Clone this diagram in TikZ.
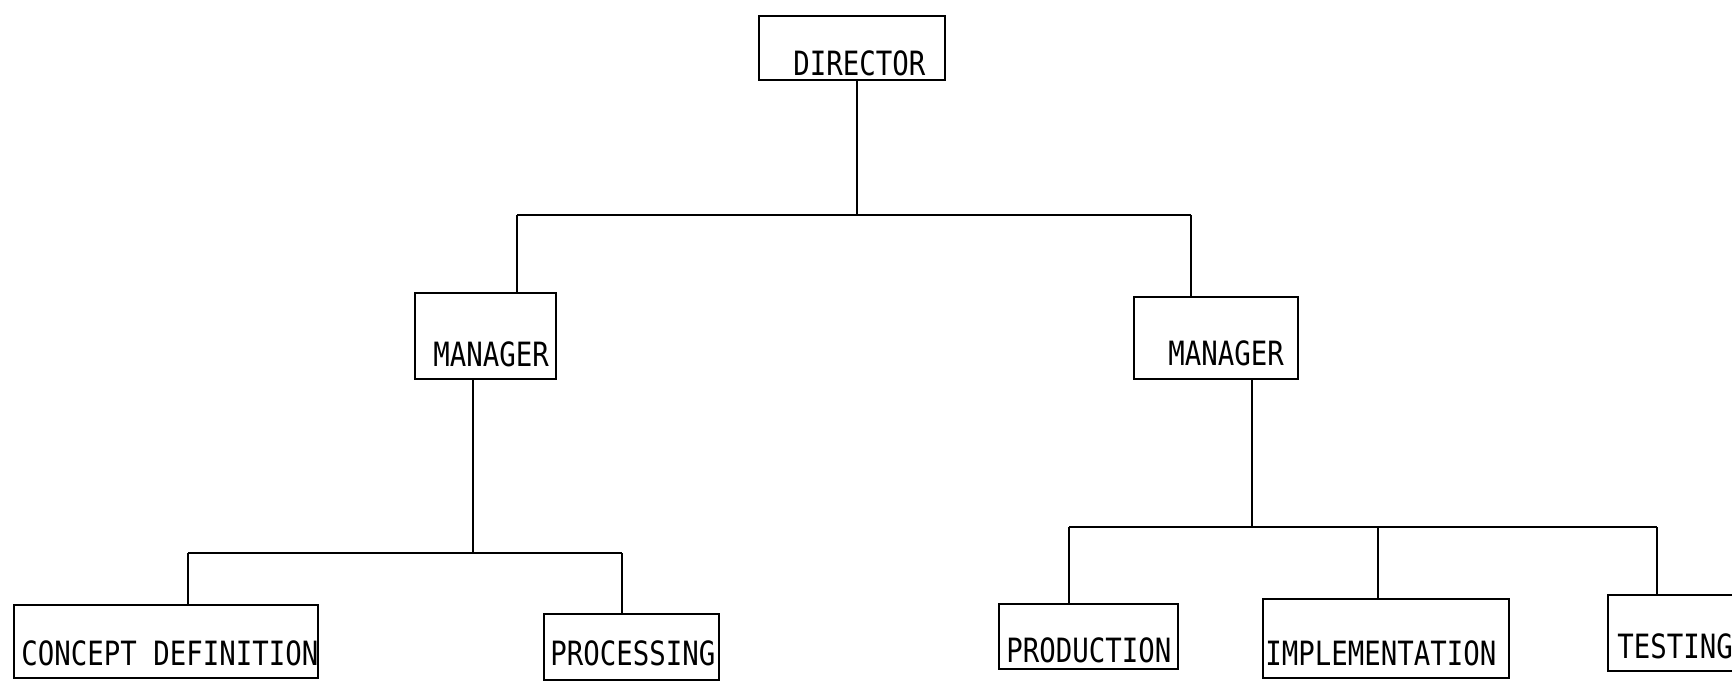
\documentclass[tikz,border=0pt]{standalone}
\usepackage{graphicx}
\usepackage{fontspec}
\newfontfamily\monofam{DejaVu Sans Mono}
\newcommand{\lbltext}[1]{\scalebox{1}[1.22]{#1}}
\tikzset{
  box/.style={draw, line width=1.2pt, inner sep=0pt, anchor=north west},
  lbl/.style={anchor=base west, inner sep=0pt, font=\monofam\fontsize{13.7}{14}\selectfont},
  wire/.style={line width=1.2pt},
}
\begin{document}
\begin{tikzpicture}[x=0.5pt,y=-0.5pt]
\useasboundingbox (0,0) rectangle (1732,680);
\fill[white] (0,0) rectangle (1732,680);
\clip (0,0) rectangle (1732,680);
% boxes
\node[box, minimum width=93pt, minimum height=32pt] (dir) at (758,15) {};
\node[box, minimum width=70.5pt, minimum height=43pt] (m1) at (414,292) {};
\node[box, minimum width=82pt, minimum height=41pt] (m2) at (1133,296) {};
\node[box, minimum width=152pt, minimum height=36.5pt] (cd) at (13,604) {};
\node[box, minimum width=87.5pt, minimum height=33pt] (pr) at (543,613) {};
\node[box, minimum width=89.5pt, minimum height=32.5pt] (pd) at (998,603) {};
\node[box, minimum width=123pt, minimum height=39.5pt] (im) at (1262,598) {};
\node[box, minimum width=80pt, minimum height=38pt] (ts) at (1607,594) {};
% labels
\node[lbl] (dirT) at (793,75) {\lbltext{DIRECTOR}};
\node[lbl] (m1T) at (433,366) {\lbltext{MANAGER}};
\node[lbl] (m2T) at (1168,365) {\lbltext{MANAGER}};
\node[lbl] (cdT) at (21,665) {\lbltext{CONCEPT DEFINITION}};
\node[lbl] (prT) at (550,665) {\lbltext{PROCESSING}};
\node[lbl] (pdT) at (1006,662) {\lbltext{PRODUCTION}};
\node[lbl] (imT) at (1265,665) {\lbltext{IMPLEMENTATION}};
\node[lbl] (tsT) at (1617,658) {\lbltext{TESTING}};
% junction coordinates
\coordinate (topJ) at (857,215);
\coordinate (topL) at (517,215);
\coordinate (topR) at (1191,215);
\coordinate (midLJ) at (473,553);
\coordinate (midL1) at (188,553);
\coordinate (midL2) at (622,553);
\coordinate (midRJ) at (1252,527);
\coordinate (midR1) at (1069,527);
\coordinate (midR2) at (1378,527);
\coordinate (midR3) at (1657,527);
% connectors
\draw[wire] (topJ |- dir.south) -- (topJ);
\draw[wire] (topL) -- (topR);
\draw[wire] (topL) -- (topL |- m1.north);
\draw[wire] (topR) -- (topR |- m2.north);
\draw[wire] (midLJ |- m1.south) -- (midLJ);
\draw[wire] (midL1) -- (midL2);
\draw[wire] (midL1) -- (midL1 |- cd.north);
\draw[wire] (midL2) -- (midL2 |- pr.north);
\draw[wire] (midRJ |- m2.south) -- (midRJ);
\draw[wire] (midR1) -- (midR3);
\draw[wire] (midR1) -- (midR1 |- pd.north);
\draw[wire] (midR2) -- (midR2 |- im.north);
\draw[wire] (midR3) -- (midR3 |- ts.north);
\end{tikzpicture}
\end{document}
